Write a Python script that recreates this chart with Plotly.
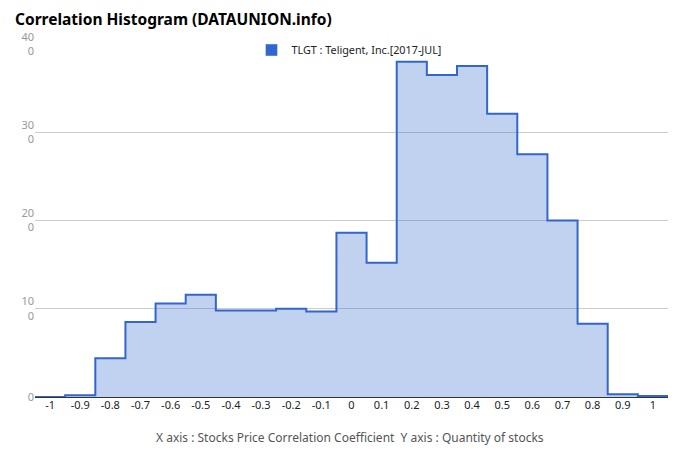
import plotly.graph_objects as go

# Data
bin_centers = [-1.0, -0.9, -0.8, -0.7, -0.6, -0.5, -0.4, -0.3, -0.2, -0.1,
               0.0, 0.1, 0.2, 0.3, 0.4, 0.5, 0.6, 0.7, 0.8, 0.9, 1.0]
tick_labels = ["-1", "-0.9", "-0.8", "-0.7", "-0.6", "-0.5", "-0.4", "-0.3", "-0.2", "-0.1",
               "0", "0.1", "0.2", "0.3", "0.4", "0.5", "0.6", "0.7", "0.8", "0.9", "1"]
counts = [0, 2, 44, 85, 106, 116, 98, 98, 100, 97,
          186, 152, 380, 365, 375, 321, 275, 200, 83, 3, 1]
y_ticks = [0, 100, 200, 300, 400]
y_tick_text = ["0", "10<br>0", "20<br>0", "30<br>0", "40<br>0"]
series_name = "TLGT : Teligent, Inc.[2017-JUL]"

half = 0.05
step_x = [c - half for c in bin_centers] + [bin_centers[-1] + half]
step_y = counts + [counts[-1]]

BLUE = "#3366CC"
FONT = "Noto Sans"

fig = go.Figure()
fig.add_trace(go.Scatter(
    x=step_x, y=step_y, mode="lines", line=dict(shape="hv", color=BLUE, width=2),
    fill="tozeroy", fillcolor="rgba(51,102,204,0.3)", showlegend=False, hoverinfo="skip"))
fig.add_trace(go.Bar(x=[None], y=[None], name=series_name, marker_color=BLUE, showlegend=True))

# page body has an 8px margin; figure is sized to fit the 680x462 window
OFF = 8
W, H = 680 - 2 * OFF, 462 - 2 * OFF
L, T = 35 - OFF, 44 - OFF
R = W - (668 - OFF)
B = H - (397 - OFF)
plot_w = W - L - R
plot_h = H - T - B

def px_x(x):  # window px -> paper x
    return (x - OFF - L) / plot_w

def px_y(y):  # window px -> paper y
    return (H - B - (y - OFF)) / plot_h

fig.update_layout(
    width=W, height=H,
    margin=dict(l=L, r=R, t=T, b=B, autoexpand=False),
    plot_bgcolor="white", paper_bgcolor="white",
    font=dict(family=FONT, size=11, color="#222"),
    title=dict(text="<b>Correlation Histogram (DATAUNION.info)</b>",
               x=(15 - OFF) / W, xanchor="left", xref="container",
               y=1 - (19.5 - OFF) / H, yanchor="middle", yref="container",
               font=dict(family=FONT, size=15.5, color="#000")),
    legend=dict(orientation="h", x=px_x(349), xanchor="center",
                y=px_y(50), yanchor="middle",
                font=dict(family=FONT, size=10.8, color="#222"), bgcolor="rgba(0,0,0,0)",
                itemwidth=30),
    xaxis=dict(range=[-1.05, 1.05], tickvals=bin_centers, ticktext=tick_labels,
               showgrid=False, zeroline=False, showline=False, ticks="",
               tickfont=dict(size=11, color="#222"), fixedrange=True, automargin=False),
    yaxis=dict(range=[0, 400], tickvals=y_ticks, ticktext=y_tick_text,
               showgrid=True, gridcolor="#cccccc", gridwidth=1,
               zeroline=True, zerolinecolor="#333", zerolinewidth=1,
               showline=False, ticks="", tickfont=dict(size=11, color="#999"),
               fixedrange=True, automargin=False),
    bargap=0,
    annotations=[dict(
        text="X axis : Stocks Price Correlation Coefficient \u00a0Y axis : Quantity of stocks",
        xref="paper", yref="paper", x=px_x(350), y=px_y(437),
        xanchor="center", yanchor="middle",
        showarrow=False, font=dict(family=FONT, size=12, color="#555"))],
)

fig.write_html("out.html")
